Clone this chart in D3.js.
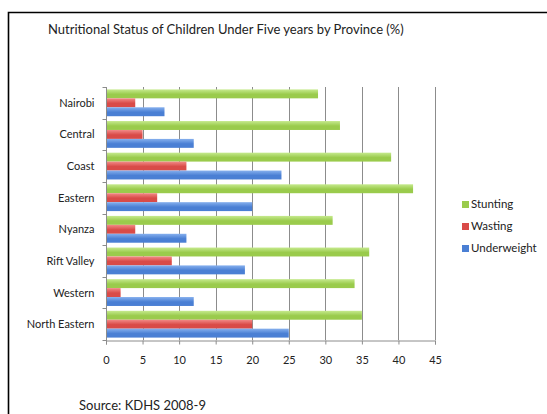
<!DOCTYPE html>
<html>
<head>
<meta charset="utf-8">
<script src="https://cdn.jsdelivr.net/npm/d3@7"></script>
<style>
  body { margin: 0; background: #fff; }
  svg text { font-family: Lato, "Open Sans", sans-serif; fill: #222; }
</style>
</head>
<body>
<div id="chart"></div>
<script>
// Nutritional status of children under five, by province (KDHS 2008-9)
const provinces   = ["Nairobi","Central","Coast","Eastern","Nyanza","Rift Valley","Western","North Eastern"];
const seriesNames = ["Stunting","Wasting","Underweight"];
const stunting    = [29, 32, 39, 42, 31, 36, 34, 35];
const wasting     = [4, 5, 11, 7, 4, 9, 2, 20];
const underweight = [8, 12, 24, 20, 11, 19, 12, 25];
const xTicks      = [0, 5, 10, 15, 20, 25, 30, 35, 40, 45];

const COLOR = {
  Stunting:    ["#c6ea8e", "#9acb4c"],
  Wasting:     ["#f28a88", "#d94b48"],
  Underweight: ["#86b0ee", "#4a7fd4"]
};

const W = 547, H = 414;
const plot = { left: 106, right: 435, top: 87, bottom: 340 };

const table = provinces.map((p, i) => ({
  province: p,
  Stunting: stunting[i], Wasting: wasting[i], Underweight: underweight[i]
}));

const svg = d3.select("#chart").append("svg").attr("width", W).attr("height", H);

// gradients for glossy bars
const defs = svg.append("defs");
seriesNames.forEach(s => {
  const gr = defs.append("linearGradient").attr("id", "g-" + s)
    .attr("x1", 0).attr("y1", 0).attr("x2", 0).attr("y2", 1);
  gr.append("stop").attr("offset", "0%").attr("stop-color", COLOR[s][0]);
  gr.append("stop").attr("offset", "55%").attr("stop-color", COLOR[s][1]);
  gr.append("stop").attr("offset", "100%").attr("stop-color", COLOR[s][1]);
});

// frame (left + top borders, the rest is cut off)
svg.append("path").attr("d", `M8.5,${H} V12.5 H${W}`)
  .attr("fill", "none").attr("stroke", "#000").attr("stroke-width", 1.6);

svg.append("text").attr("x", 48).attr("y", 34).attr("font-size", "13px")
  .text("Nutritional Status of Children Under Five years by Province (%)");

const x = d3.scaleLinear().domain([0, 45]).range([plot.left, plot.right]);
const y = d3.scaleBand().domain(provinces).range([plot.top, plot.bottom]);
const inner = d3.scaleBand().domain(seriesNames).range([0, y.bandwidth()]).paddingOuter(0.27).paddingInner(0);

// vertical grid
svg.append("g").selectAll("line").data(xTicks.slice(1)).join("line")
  .attr("x1", d => Math.round(x(d)) + 0.5).attr("x2", d => Math.round(x(d)) + 0.5)
  .attr("y1", plot.top).attr("y2", plot.bottom)
  .attr("stroke", "#8c8c8c").attr("stroke-width", 1);

// bars
const groups = svg.append("g").selectAll("g").data(table).join("g")
  .attr("transform", d => `translate(0,${y(d.province)})`);
groups.selectAll("rect")
  .data(d => seriesNames.map(s => ({ s, v: d[s] })))
  .join("rect")
  .attr("x", x(0))
  .attr("y", d => inner(d.s))
  .attr("width", d => x(d.v) - x(0))
  .attr("height", inner.bandwidth())
  .attr("fill", d => `url(#g-${d.s})`);

// y axis: ticks between categories
const yAxis = svg.append("g").attr("transform", `translate(${plot.left + 0.5},0)`);
yAxis.append("line").attr("y1", plot.top).attr("y2", plot.bottom + 4)
  .attr("stroke", "#8c8c8c");
yAxis.selectAll(".tk").data(provinces.concat(["end"])).join("line")
  .attr("class", "tk")
  .attr("x1", -4).attr("x2", 0)
  .attr("y1", (d, i) => Math.round(plot.top + i * y.step()) + 0.5)
  .attr("y2", (d, i) => Math.round(plot.top + i * y.step()) + 0.5)
  .attr("stroke", "#8c8c8c");
yAxis.selectAll("text").data(provinces).join("text")
  .attr("x", -12).attr("y", d => y(d) + y.bandwidth() / 2 + 4)
  .attr("text-anchor", "end").attr("font-size", "11px")
  .text(d => d);

// x axis
const xAxis = svg.append("g").attr("transform", `translate(0,${plot.bottom + 0.5})`)
  .call(d3.axisBottom(x).tickValues(xTicks).tickSize(4).tickPadding(12));
xAxis.select(".domain").attr("stroke", "#8c8c8c");
xAxis.selectAll(".tick line").attr("stroke", "#8c8c8c");
xAxis.selectAll(".tick text").attr("font-size", "11px")
  .attr("font-family", "Lato, 'Open Sans', sans-serif").attr("fill", "#222");

// legend (top = Stunting)
const legend = svg.append("g").attr("transform", "translate(462,0)");
seriesNames.forEach((s, i) => {
  const cy = 206 + i * 22;
  legend.append("rect").attr("x", 0).attr("y", cy - 5).attr("width", 7).attr("height", 7)
    .attr("fill", COLOR[s][1]);
  legend.append("text").attr("x", 9).attr("y", cy + 2).attr("font-size", "11.5px").text(s);
});

svg.append("text").attr("x", 79).attr("y", 410).attr("font-size", "13px")
  .text("Source: KDHS 2008-9");
</script>
</body>
</html>
